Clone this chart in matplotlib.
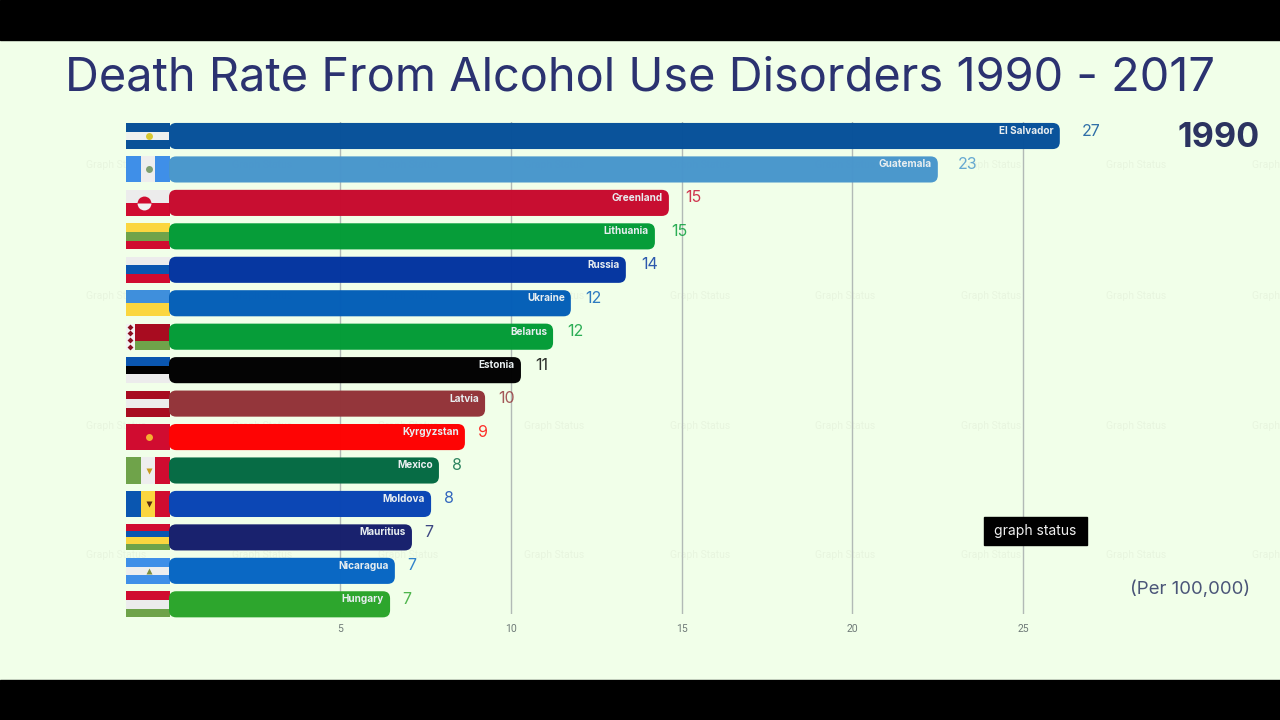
import matplotlib
matplotlib.use("Agg")
import matplotlib.pyplot as plt
from matplotlib.patches import FancyBboxPatch, Rectangle

plt.rcParams["font.family"] = ["Roboto", "DejaVu Sans"]
WIDE = ["Inter", "Roboto", "DejaVu Sans"]  # reference text is letter-spaced, Inter comes closest

# chart data
countries = ["El Salvador", "Guatemala", "Greenland", "Lithuania", "Russia", "Ukraine", "Belarus", "Estonia",
             "Latvia", "Kyrgyzstan", "Mexico", "Moldova", "Mauritius", "Nicaragua", "Hungary"]
bar_values = [26.07, 22.5, 14.63, 14.22, 13.37, 11.76, 11.24, 10.3, 9.25, 8.66, 7.9, 7.67, 7.11, 6.61, 6.47]
shown_values = [27, 23, 15, 15, 14, 12, 12, 11, 10, 9, 8, 8, 7, 7, 7]
bar_colors = ["#06509a", "#4896cc", "#c80a2e", "#029c36", "#0234a0", "#035eb8", "#029c36", "#000000",
              "#933338", "#ff0000", "#036a42", "#0844b4", "#151e6c", "#0666c4", "#2aa52a"]
x_ticks = [5, 10, 15, 20, 25]

# flags: stripes from top to bottom (h) or left to right (v)
flag_dirs = ["h", "v", "h", "h", "h", "h", "h", "h", "h", "h", "v", "v", "h", "h", "h"]
flag_stripes = [
    ["#0a5298", "#eef1ee", "#0a5298"],
    ["#3f8fe8", "#eeeeee", "#3f8fe8"],
    ["#ececec", "#d00c30"],
    ["#fbd63f", "#6fa34a", "#d00c30"],
    ["#ececec", "#0a56b0", "#d00c30"],
    ["#3f8fdc", "#fbd63f"],
    ["#a80c20", "#a80c20", "#6fa34a"],
    ["#0a56b0", "#000000", "#ececec"],
    ["#a80c20", "#ececec", "#a80c20"],
    ["#d00c30"],
    ["#6fa34a", "#eeeeee", "#d00c30"],
    ["#0a56b0", "#fbd63f", "#d00c30"],
    ["#d00c30", "#0a56b0", "#fbd63f", "#6fa34a"],
    ["#3f8fe8", "#eeeeee", "#3f8fe8"],
    ["#d00c30", "#ececec", "#6fa34a"],
]
# small emblem in the middle of some flags: rank, colour, marker
emblems = [(0, "#d8c830", "o"), (1, "#7f9f70", "o"), (9, "#f5b030", "o"), (10, "#c89a20", "v"),
           (11, "#5a2a10", "v"), (13, "#7f8f40", "^")]

BG = "#f1ffe9"
PX_PER_UNIT = 34.17
PX_PER_RANK = 33.45
BAR_H = 0.78
FLAG_W = 43 / PX_PER_UNIT

fig = plt.figure(figsize=(12.8, 7.2), dpi=100, facecolor=BG)

# black bands on top and bottom
fig.patches.append(Rectangle((0, 0), 1, 40 / 720, transform=fig.transFigure, color="black"))
fig.patches.append(Rectangle((0, 680 / 720), 1, 40 / 720, transform=fig.transFigure, color="black"))

# faint watermark grid behind the bars
for wy in [165, 296, 426, 555]:
    for wx in [-30, 116, 262, 408, 554, 700, 845, 991, 1136, 1282]:
        fig.text(wx / 1280, 1 - wy / 720, "Graph Status", color="#e8f5df", fontsize=7.5,
                 ha="center", va="center", zorder=-1)

ax = fig.add_axes([169 / 1280, 1 - 614 / 720, 1111 / 1280, 492 / 720])
ax.patch.set_alpha(0)
ax.set_xlim(0, 1111 / PX_PER_UNIT)
ax.set_ylim((614 - 136) / PX_PER_RANK, (122 - 136) / PX_PER_RANK)
for s in ax.spines.values():
    s.set_visible(False)
ax.set_yticks([])
ax.set_xticks(x_ticks)
ax.set_xticklabels([str(t) for t in x_ticks])
ax.tick_params(axis="x", length=0, pad=7, labelsize=7.5, labelcolor="#6f7a78")
ax.grid(axis="x", color="#b2bab6", lw=1)
ax.set_axisbelow(True)

for i, country in enumerate(countries):
    # flag first, the bar sits over its right edge
    stripes = flag_stripes[i]
    n = len(stripes)
    for j, col in enumerate(stripes):
        if flag_dirs[i] == "h":
            r = Rectangle((-FLAG_W, i - BAR_H / 2 + j * BAR_H / n), FLAG_W + 0.03, BAR_H / n, fc=col, ec="none")
        else:
            w = (FLAG_W + 0.03) / n
            r = Rectangle((-FLAG_W + j * w, i - BAR_H / 2), w, BAR_H, fc=col, ec="none")
        r.set_clip_on(False)
        ax.add_patch(r)

    # rounded bar
    rad = 0.21
    bar = FancyBboxPatch((rad, i - BAR_H / 2 + rad * 1.02), bar_values[i] - 2 * rad, BAR_H - 2 * rad * 1.02,
                         boxstyle=f"round,pad={rad},rounding_size={rad}", mutation_aspect=PX_PER_UNIT / PX_PER_RANK,
                         fc=bar_colors[i], ec="none", alpha=0.985, zorder=3)
    bar.set_clip_on(False)
    ax.add_patch(bar)

    ax.annotate(country, (bar_values[i], i), xytext=(-6, 5), textcoords="offset pixels", ha="right", va="center",
                color="#e8eef0", fontsize=7.2, fontweight="bold", family=WIDE, zorder=4)
    # the number drifts a little further from long bars
    ax.annotate(str(shown_values[i]), (bar_values[i], i), xytext=(9 + 0.5 * bar_values[i], 5),
                textcoords="offset pixels", ha="left", va="center", color=bar_colors[i], alpha=0.82,
                fontsize=11.5, family=WIDE, zorder=4)

# flag details
flag_mid = -FLAG_W / 2 + 0.03
for rank, col, mk in emblems:
    ax.plot(flag_mid, rank, marker=mk, ms=5, color=col, mec="none", clip_on=False, zorder=2)
ax.plot(-FLAG_W + 0.52, 2, marker="o", ms=10, fillstyle="top", mfc="#d00c30", markerfacecoloralt="#f2f2f2",
        mec="none", clip_on=False, zorder=2)
# Belarus white strip with red pattern
strip = Rectangle((-FLAG_W, 6 - BAR_H / 2), 0.25, BAR_H, fc="#f2f2f2", ec="none", clip_on=False, zorder=2)
ax.add_patch(strip)
for dy in [-0.3, -0.1, 0.1, 0.3]:
    ax.plot(-FLAG_W + 0.12, 6 + dy, marker="D", ms=3, color="#8a1020", mec="none", clip_on=False, zorder=2)

# texts outside the axes
fig.text(640 / 1280, 1 - 78.5 / 720, "Death Rate From Alcohol Use Disorders 1990 - 2017", color="#2b3270",
         fontsize=33.8, family=WIDE, ha="center", va="center")
fig.text(1260 / 1280, 1 - 138 / 720, "1990", color="#2c3360", fontsize=24.6, fontweight="bold", family=WIDE,
         ha="right", va="center")
fig.text(1250 / 1280, 1 - 589 / 720, "(Per 100,000)", color="#4a5578", fontsize=13.4, family=WIDE, ha="right", va="center")
fig.text(1035.5 / 1280, 1 - 531.5 / 720, "graph status", color="#f0f0f0", fontsize=10, family=WIDE, ha="center",
         va="center", zorder=6)
fig.patches.append(Rectangle((984 / 1280, 1 - 544.5 / 720), 102.5 / 1280, 27.5 / 720, transform=fig.transFigure,
                             color="black", zorder=5))

fig.savefig("out.png", dpi=100, facecolor=BG)
